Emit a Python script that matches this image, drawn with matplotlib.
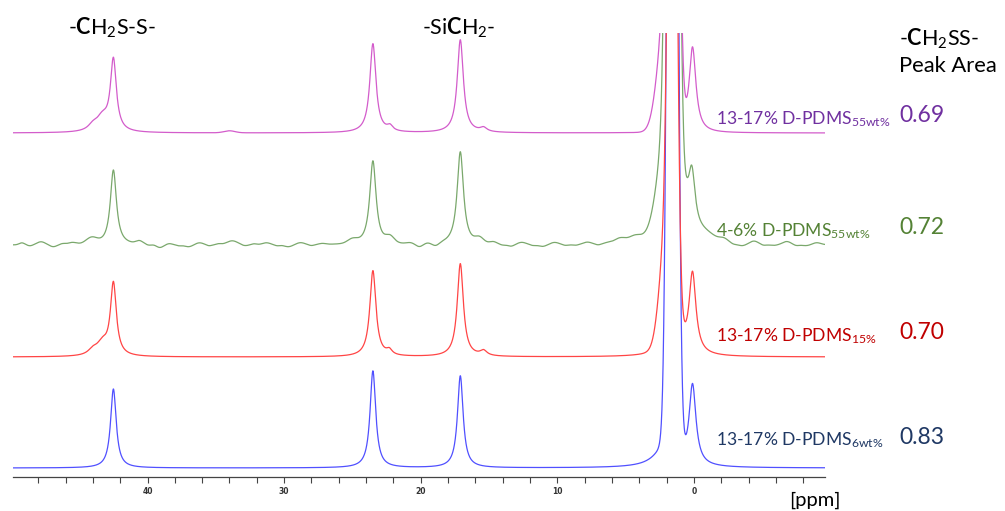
import numpy as np
import matplotlib
matplotlib.use('Agg')
import matplotlib.pyplot as plt
from matplotlib.ticker import MultipleLocator
from matplotlib import transforms

# Lines: (ppm, height, width, shape), heights in px above each baseline
blue_peaks = [
    (42.5, 79, 0.25, 'L'),
    (23.5, 97, 0.25, 'L'),
    (17.1, 92, 0.25, 'L'),
    (1.56, 1710, 0.28, 'G'),
    (2.0, 25, 0.9, 'L'),
    (0.1, 80, 0.3, 'L'),
]
red_peaks = [
    (44.0, 5, 0.4, 'L'),
    (43.3, 12, 0.5, 'L'),
    (42.5, 72, 0.26, 'L'),
    (23.5, 86, 0.27, 'L'),
    (22.3, 5, 0.25, 'L'),
    (17.1, 93, 0.27, 'L'),
    (15.4, 5, 0.3, 'L'),
    (1.56, 800, 0.27, 'G'),
    (2.0, 110, 0.48, 'G'),
    (1.56, 40, 0.6, 'L'),
    (0.1, 80, 0.3, 'L'),
]
green_peaks = [
    (44.1, 6, 0.4, 'G'),
    (42.5, 75, 0.27, 'L'),
    (23.5, 84, 0.28, 'L'),
    (22.25, 6, 0.3, 'G'),
    (17.1, 93, 0.28, 'L'),
    (15.7, 5, 0.3, 'G'),
    (1.56, 1500, 0.31, 'G'),
    (1.85, 110, 0.7, 'G'),
    (1.8, 25, 1.0, 'L'),
    (0.5, 8, 0.25, 'L'),
    (0.15, 58, 0.3, 'L'),
    (-0.6, 9, 0.9, 'G'),
]
# small wiggles of the noisy green trace: (ppm, height, width)
green_bumps = [
    (49.2, 2, 0.2), (48.6, -1, 0.2), (47.8, 3, 0.3), (46.9, -2, 0.25),
    (46.2, 1, 0.2), (45.5, 2, 0.3), (40.6, 3, 0.25), (39.9, -1, 0.2),
    (39.1, -3, 0.25), (38.4, 1, 0.2), (37.7, -1, 0.2), (37.0, -2, 0.3),
    (36.2, 2, 0.3), (35.5, -1, 0.2), (34.8, 1, 0.2), (33.8, 4, 0.4),
    (32.9, -1, 0.25), (32.2, 1, 0.2), (31.3, 2, 0.3), (30.5, -1, 0.2),
    (29.7, -2, 0.3), (28.8, 2, 0.3), (28.0, -1, 0.2), (27.2, 1, 0.25),
    (25.0, 4, 0.35), (20.8, 1, 0.25), (20.1, -3, 0.25), (19.5, 0.5, 0.2),
    (18.9, -3, 0.25), (14.7, 2, 0.25), (14.0, -1, 0.2), (13.4, -2, 0.25),
    (12.6, 2, 0.3), (11.8, -1, 0.2), (11.1, -2, 0.3), (10.2, 2, 0.3),
    (9.4, -1, 0.2), (8.7, -1, 0.25), (7.8, 2, 0.3), (7.0, -1, 0.2),
    (6.3, 1, 0.3), (5.4, 5, 0.4), (4.3, 6, 0.45), (-2.2, 3, 0.3),
    (-2.9, -1, 0.2), (-3.5, -2, 0.3), (-4.4, 3, 0.3), (-5.1, -1, 0.2),
    (-5.8, -1, 0.3), (-6.8, 3, 0.3), (-7.5, -1, 0.2), (-8.2, -1, 0.3),
    (-9.0, 2, 0.3),
]
magenta_peaks = [
    (44.0, 5, 0.4, 'L'),
    (43.3, 14, 0.55, 'L'),
    (42.5, 71, 0.26, 'L'),
    (34.0, 2, 0.4, 'G'),
    (23.5, 89, 0.27, 'L'),
    (22.25, 5, 0.25, 'L'),
    (17.1, 93, 0.27, 'L'),
    (15.4, 4, 0.3, 'L'),
    (1.56, 1000, 0.32, 'G'),
    (2.1, 110, 0.55, 'G'),
    (0.1, 86, 0.3, 'L'),
]

samples = ['13-17% D-PDMS$_{\\mathrm{6wt\\%}}$',
           '13-17% D-PDMS$_{\\mathrm{15\\%}}$',
           '4-6% D-PDMS$_{\\mathrm{55wt\\%}}$',
           '13-17% D-PDMS$_{\\mathrm{55wt\\%}}$']
peak_areas = ['0.83', '0.70', '0.72', '0.69']
baselines = [9, 120, 232, 344]
line_colors = ['#5050ff', '#ff4545', '#7aa86c', '#d35ccb']
text_colors = ['#1f3864', '#c00000', '#548235', '#7030a0']
label_y = [445.5, 341, 236, 124]   # text baselines, px from top

plt.rcParams['font.family'] = ['Lato', 'DejaVu Sans']
plt.rcParams['mathtext.fontset'] = 'custom'
plt.rcParams['mathtext.rm'] = 'Lato'
plt.rcParams['mathtext.bf'] = 'Lato:bold'
plt.rcParams['mathtext.it'] = 'Lato:italic'


def spectrum(x, peaks, bumps=()):
    y = np.zeros_like(x)
    for c, h, w, kind in peaks:
        if kind == 'L':
            y += h * w**2 / ((x - c)**2 + w**2)
        else:
            y += h * np.exp(-(x - c)**2 / (2 * w**2))
    for c, h, w in bumps:
        y += h * np.exp(-(x - c)**2 / (2 * w**2))
    return y


W, H = 1005, 511
fig = plt.figure(figsize=(W / 100, H / 100), dpi=100)
ax = fig.add_axes([13 / W, 34 / H, 812 / W, 444 / H])

ppm = np.linspace(49.9, -9.7, 4000)
all_peaks = [blue_peaks, red_peaks, green_peaks, magenta_peaks]
for i, peaks in enumerate(all_peaks):
    bumps = green_bumps if peaks is green_peaks else ()
    ax.plot(ppm, baselines[i] + spectrum(ppm, peaks, bumps),
            color=line_colors[i], lw=0.9)

ax.set_xlim(49.85, -9.6)
ax.set_ylim(0, 444)
for s in ['top', 'left', 'right']:
    ax.spines[s].set_visible(False)
ax.spines['bottom'].set_color('#444444')
ax.spines['bottom'].set_linewidth(0.9)
ax.set_yticks([])
ax.set_xticks([40, 30, 20, 10, 0])
ax.xaxis.set_minor_locator(MultipleLocator(2))
ax.tick_params(axis='x', which='both', direction='out', length=4, width=0.8,
               color='#444444', labelsize=5.5, pad=3)
for t in ax.get_xticklabels():
    t.set_fontfamily('DejaVu Sans')
    t.set_fontweight('bold')
    t.set_color('#333333')

# labels over the assigned peaks
trans = transforms.blended_transform_factory(ax.transData, fig.transFigure)
ax.text(42.6, 1 - 35 / H, '-$\\mathbf{C}$H$_2$S-S-', transform=trans,
        ha='center', va='baseline', fontsize=15.5)
ax.text(17.2, 1 - 35 / H, '-Si$\\mathbf{C}$H$_2$-', transform=trans,
        ha='center', va='baseline', fontsize=15.5)

fig.text(899 / W, 1 - 45.5 / H, '-$\\mathbf{C}$H$_2$SS-', ha='left',
         va='baseline', fontsize=15.5)
fig.text(899 / W, 1 - 71.5 / H, 'Peak Area', ha='left', va='baseline',
         fontsize=15.8)

for i in range(4):
    fig.text(716 / W, 1 - label_y[i] / H, samples[i], color=text_colors[i],
             ha='left', va='baseline', fontsize=12.6)
    fig.text(899 / W, 1 - (label_y[i] - 2) / H, peak_areas[i],
             color=text_colors[i], ha='left', va='baseline', fontsize=16.5)

fig.text(789 / W, 1 - 506 / H, '[ppm]', ha='left', va='baseline', fontsize=14.5)

fig.savefig('out.png', dpi=100)
